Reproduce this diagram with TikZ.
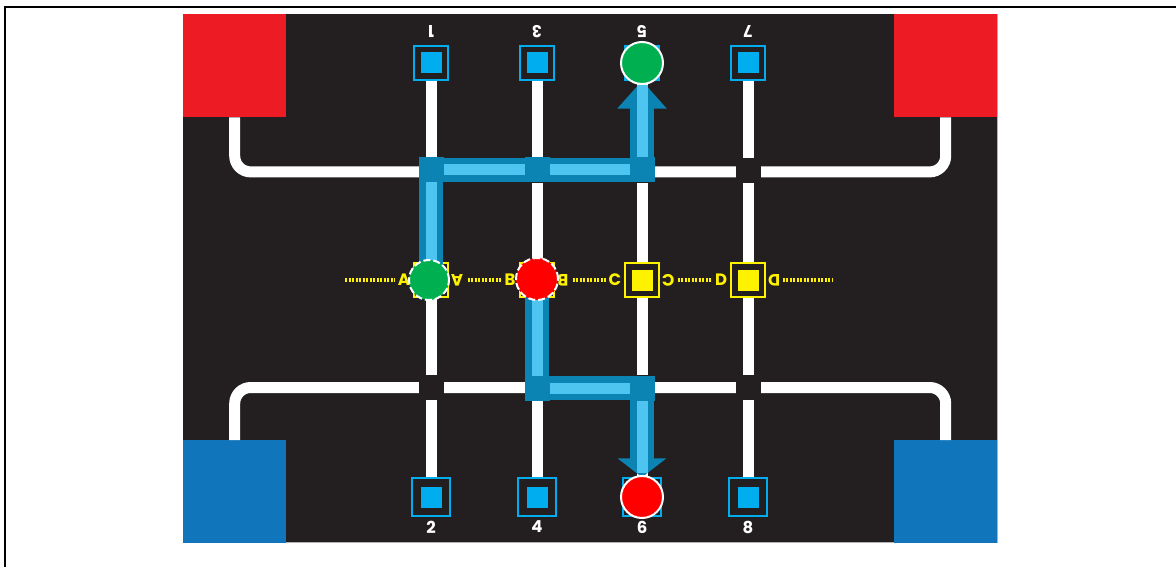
\documentclass[tikz,border=0pt]{standalone}
\usepackage{fontspec}
\setsansfont{Poppins}
\usepackage{tikz}
\usetikzlibrary{calc,arrows.meta}

\definecolor{mat}{RGB}{35,31,32}
\definecolor{matred}{RGB}{237,28,36}
\definecolor{matblue}{RGB}{16,117,186}
\definecolor{padblue}{RGB}{0,174,239}
\definecolor{gateyellow}{RGB}{255,242,0}
\definecolor{routedark}{RGB}{11,132,180}
\definecolor{routelight}{RGB}{77,197,240}
\definecolor{tokgreen}{RGB}{0,176,80}
\definecolor{tokred}{RGB}{255,0,0}

\tikzstyle{corner node} = [rectangle,inner sep=0,minimum size=103,anchor=north west]
\tikzstyle{pad node}    = [rectangle,draw=padblue,line width=1.5,fill=mat,minimum size=34,
    path picture={\fill[padblue] ($(path picture bounding box.center)+(-10.5,-10.5)$) rectangle ++(21,21);}]
\tikzstyle{gate node}   = [rectangle,draw=gateyellow,line width=2,fill=mat,minimum size=34,
    path picture={\fill[gateyellow] ($(path picture bounding box.center)+(-10.5,-10.5)$) rectangle ++(21,21);}]
\tikzstyle{token}       = [circle,draw=white,line width=2,minimum size=42,inner sep=0]
\tikzstyle{dashed token}= [token,dash pattern=on 7pt off 3pt]
\tikzstyle{num text}    = [text=white,inner sep=1,font=\sffamily\bfseries\fontsize{16.5}{18}\selectfont]
\tikzstyle{gate letter} = [text=gateyellow,fill=mat,inner sep=2.5,font=\sffamily\bfseries\fontsize{16.5}{18}\selectfont]

\begin{document}
\begin{tikzpicture}[x=1pt,y=-1pt]

    \tikzstyle{track}=[white,line width=11]
    \tikzstyle{route band}=[routedark,line width=24,line join=miter]
    \tikzstyle{route stripe}=[routelight,line width=11,line join=miter]

    \useasboundingbox (0,0) rectangle (1176,567);
    \draw[line width=2] (1176,7) -- (5,7) -- (5,567);

    % mat
    \fill[mat] (183,14) rectangle (997,542);
    \draw[gray!60,line width=0.8] (997,14) -- (997,542) -- (183,542);

    % start areas
    \node(redL)[corner node,fill=matred] at (183,14){};
    \node(redR)[corner node,fill=matred] at (894,14){};
    \node(blueL)[corner node,fill=matblue] at (183,440){};
    \node(blueR)[corner node,fill=matblue] at (894,440){};

    % pads, odd ones on top
    \node(1)[pad node] at (431,63){};
    \node(3)[pad node] at (537,63){};
    \node(5)[pad node] at (642,63){};
    \node(7)[pad node] at (748,63){};
    \node(2)[pad node,minimum size=38] at (431,497){};
    \node(4)[pad node,minimum size=38] at (537,497){};
    \node(6)[pad node,minimum size=38] at (642,497){};
    \node(8)[pad node,minimum size=38] at (748,497){};

    % tracks
    \draw[track,rounded corners=16] (redL.south) -- ++(0,54.5) -| (redR.south);
    \draw[track,rounded corners=16] (blueL.north) -- ++(0,-52.5) -| (blueR.north);
    \foreach \a/\b in {1/2,3/4,5/6,7/8}
        \draw[track] (\a) -- (\b);
    \foreach \x in {431,537,642,748}
        \foreach \y in {171,387.5}
            \fill[mat] (\x-12.5,\y-12.5) rectangle ++(25,25);

    % gate line
    \coordinate(gl) at (345,280);
    \coordinate(gr) at (833,280);
    \draw[gateyellow,line width=4,dash pattern=on 2pt off 1.5pt] (gl) -- (gr);
    \foreach \x/\l in {431/A,537/B,642/C,748/D}{
        \node(\l l)[gate letter] at (\x-27,280){\l};
        \node(\l r)[gate letter,rotate=180] at (\x+26,280){\l};
        \node(\l)[gate node] at (\x,280){};
    }

    % route from A to 5
    \coordinate(a1) at (431,170);
    \coordinate(a3) at (537,170);
    \coordinate(a5) at (642,170);
    \draw[route band,-{Triangle[width=48pt,length=28pt]}] (A.center) -- (a1) -- (a5) -- (5.south);
    \draw[route stripe] (A.center) -- (a1) -- (a5) -- ($(5.south)+(0,4)$);
    \foreach \j in {a1,a3,a5}
        \fill[routedark] ($(\j)+(-12.5,-12.5)$) rectangle ++(25,25);

    % route from B to 6
    \coordinate(b3) at (537,388);
    \coordinate(b5) at (642,388);
    \draw[route band,-{Triangle[width=48pt,length=19pt]}] (B.center) -- (b3) -- (b5) -- (6.north);
    \draw[route stripe] (B.center) -- (b3) -- (b5) -- ($(6.north)+(0,-4)$);
    \foreach \j in {b3,b5}
        \fill[routedark] ($(\j)+(-12.5,-12.5)$) rectangle ++(25,25);

    % tokens
    \node(gA)[dashed token,fill=tokgreen,minimum size=40] at (429,280){};
    \node(rB)[dashed token,fill=tokred] at (537,279){};
    \node(g5)[token,fill=tokgreen] at (642,63){};
    \node(r6)[token,fill=tokred] at (642,497){};

    % pad numbers
    \foreach \n in {1,3,5,7}
        \node(n\n)[num text,rotate=180] at ($(\n)+(0,-31)$){\n};
    \foreach \n in {2,4,6,8}
        \node(n\n)[num text] at ($(\n)+(0,30)$){\n};

\end{tikzpicture}
\end{document}
